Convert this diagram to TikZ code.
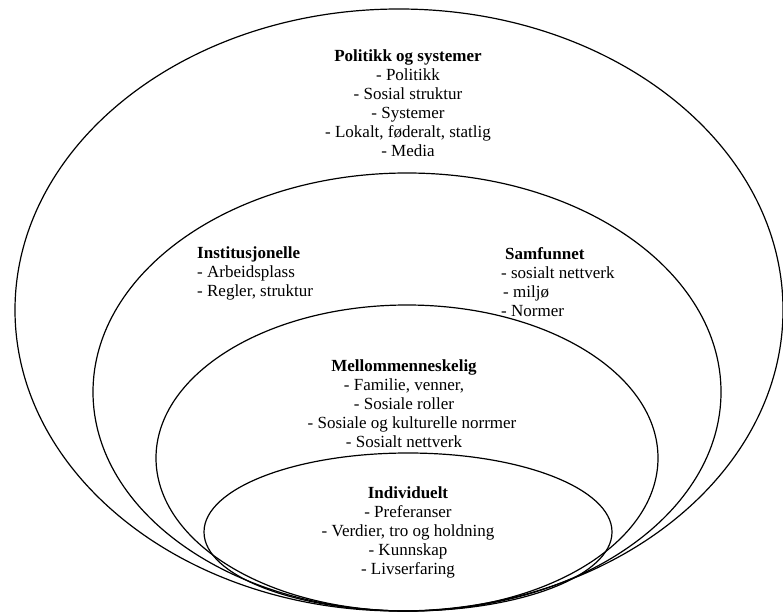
\documentclass[tikz,border=0pt]{standalone}
\usepackage{fontspec}
\setmainfont{Liberation Serif}
\usepackage{tikz}
\usetikzlibrary{positioning}

\begin{document}
\begin{tikzpicture}[x=1pt, y=-1pt,
    ring/.style={line width=1.2pt},
    levels/.style={font=\fontsize{17}{19}\selectfont, inner sep=0pt, align=center, anchor=north},
    side/.style={levels, align=left, anchor=north west}]
    \useasboundingbox (0,0) rectangle (783,612);

    % Rings, from outside in
    \foreach \cx/\cy/\rx/\ry in {399/310/384/301, 407/392/314/219, 407/458/251/153, 408/532/204/79} {
        \draw[ring] (\cx,\cy) ellipse [x radius=\rx pt, y radius=\ry pt];
    }

    % Texts
    \node[levels] (politikk) at (408,50) {\textbf{Politikk og systemer}\\- Politikk\\- Sosial struktur\\- Systemer\\- Lokalt, føderalt, statlig\\- Media};
    \node[side] (inst) at (197,247) {\textbf{Institusjonelle}\\- Arbeidsplass\\- Regler, struktur};
    \node[side] (samf) at (501,247) {\hspace{4pt}\textbf{Samfunnet}\\- sosialt nettverk\\\hspace{2pt}- miljø\\- Normer};
    \node[levels] (mellom) at (404,360) {\textbf{Mellommenneskelig}\\- Familie, venner,\\- Sosiale roller\\\hspace{16pt}- Sosiale og kulturelle norrmer\\- Sosialt nettverk};
    \node[levels] (indiv) at (408,486) {\textbf{Individuelt}\\- Preferanser\\- Verdier, tro og holdning\\- Kunnskap\\- Livserfaring};
\end{tikzpicture}
\end{document}
